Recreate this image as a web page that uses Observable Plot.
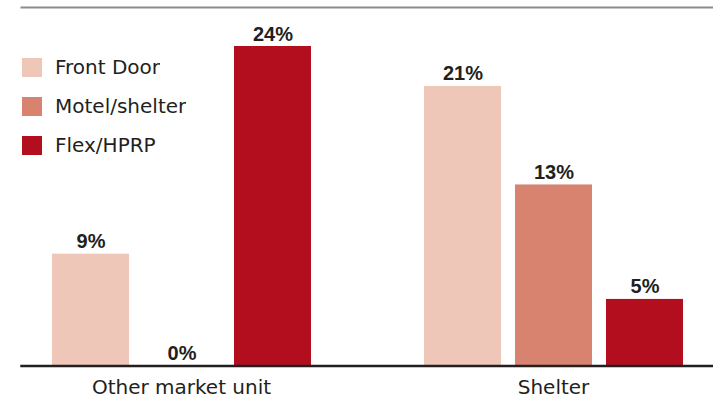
<!DOCTYPE html>
<html><head><meta charset="utf-8">
<script src="https://cdn.jsdelivr.net/npm/d3@7"></script>
<script src="https://cdn.jsdelivr.net/npm/@observablehq/plot@0.6"></script>
<style>
html,body{margin:0;padding:0;background:#fff;}
#wrap{position:relative;width:713px;height:397px;}
#legend{position:absolute;left:22px;top:47.5px;width:260px;}
.lg-swatches{font-family:"DejaVu Sans",sans-serif !important;font-size:20px !important;color:#231f20;margin:0 !important;}
.lg-swatch{height:39px;padding:0 !important;display:flex;align-items:center;}
.lg-swatch > svg{margin-right:13px !important;}
</style>
</head><body>
<div id="wrap"><div id="chart"></div><div id="legend"></div></div>
<script>
const groups = ["Other market unit", "Shelter"];
const series = ["Front Door", "Motel/shelter", "Flex/HPRP"];
const otherMarketUnitValues = [8.4, 0, 24];
const shelterValues = [21, 13.6, 5];
const otherMarketUnitLabels = ["9%", "0%", "24%"];
const shelterLabels = ["21%", "13%", "5%"];
const colors = ["#efc7b9", "#d8836f", "#b30e1d"];

const valueRows = [otherMarketUnitValues, shelterValues];
const labelRows = [otherMarketUnitLabels, shelterLabels];
const data = [];
groups.forEach((g, gi) => series.forEach((s, si) => data.push({group: g, series: s, value: valueRows[gi][si], label: labelRows[gi][si]})));

const chart = Plot.plot({
  width: 713, height: 397,
  marginLeft: 12, marginRight: 0, marginTop: 7, marginBottom: 31.5,
  style: {fontFamily: "DejaVu Sans", fontSize: "20px", color: "#231f20", background: "#fff", overflow: "visible"},
  fx: {domain: groups, paddingInner: 0.141, paddingOuter: 0.0114, align: 1, label: null},
  x: {domain: series, paddingInner: 0.156, paddingOuter: 0.3315, axis: null},
  y: {domain: [0, 26.93], axis: null},
  color: {domain: series, range: colors},
  marks: [
    Plot.barY(data, {fx: "group", x: "series", y: "value", fill: "series"}),
    Plot.text(data, {fx: "group", x: "series", y: "value", text: "label", lineAnchor: "bottom", dy: -6,
      fontFamily: "Liberation Sans", fontWeight: "bold", fontSize: 20, fill: "#231f20"}),
    Plot.frame({anchor: "bottom", facet: "super", stroke: "#231f20", strokeWidth: 2.5}),
    Plot.frame({anchor: "top", facet: "super", stroke: "#8c8c8c", strokeWidth: 2}),
    Plot.axisFx({anchor: "bottom", tickSize: 0, tickPadding: 14, fontSize: 20, label: null})
  ]
});
document.getElementById("chart").appendChild(chart);

const legend = Plot.legend({
  color: {type: "ordinal", domain: series, range: colors},
  legend: "swatches", columns: 1, swatchWidth: 20, swatchHeight: 19, className: "lg"
});
document.getElementById("legend").appendChild(legend);
</script>
</body></html>
